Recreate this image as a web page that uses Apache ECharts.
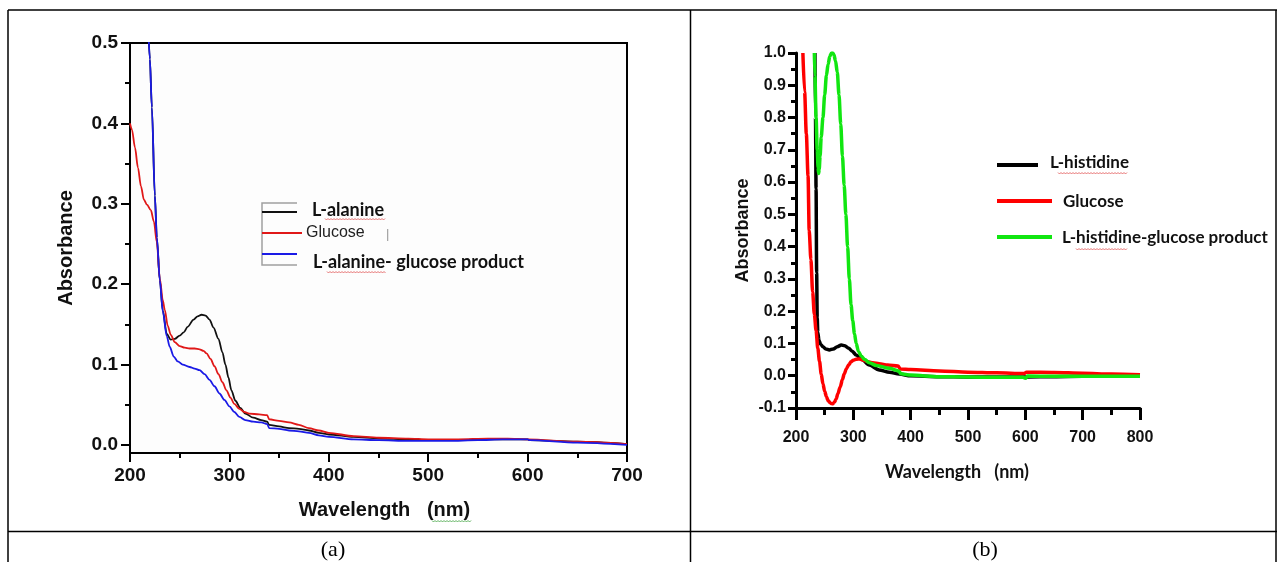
<!DOCTYPE html>
<html>
<head>
<meta charset="utf-8">
<script src="https://cdn.jsdelivr.net/npm/echarts@6/dist/echarts.min.js"></script>
<style>
html,body{margin:0;padding:0;background:#fff;}
#chart{width:1277px;height:562px;}
</style>
</head>
<body>
<div id="chart"></div>
<script>
// ---------- Panel (a): L-alanine / glucose ----------
const alanineX = [218, 220, 222, 225, 227, 230, 233, 237, 241, 245, 250, 254, 258, 264, 268, 272, 276, 280, 284, 289, 293, 296, 299, 302, 306, 311, 316, 324, 332, 338, 340, 350, 360, 370, 380, 390, 400, 425, 450, 480, 500, 530, 560, 580, 600, 602, 650, 700];
const alanineY = [0.53, 0.48, 0.42, 0.31, 0.258, 0.205, 0.167, 0.138, 0.131, 0.132, 0.136, 0.140, 0.147, 0.156, 0.160, 0.162, 0.161, 0.156, 0.146, 0.132, 0.115, 0.100, 0.084, 0.068, 0.055, 0.046, 0.039, 0.034, 0.031, 0.029, 0.025, 0.023, 0.021, 0.020, 0.018, 0.015, 0.013, 0.010, 0.008, 0.007, 0.006, 0.006, 0.007, 0.007, 0.007, 0.006, 0.004, 0.001];

const glucoseAX = [200, 202, 205, 208, 211, 214, 217, 221, 224, 227, 230, 233, 235, 238, 241, 245, 250, 255, 260, 265, 270, 274, 277, 281, 285, 289, 293, 297, 301, 305, 310, 315, 320, 330, 338, 340, 350, 360, 370, 380, 390, 400, 425, 450, 480, 500, 530, 560, 580, 600, 650, 700];
const glucoseAY = [0.400, 0.392, 0.370, 0.345, 0.322, 0.305, 0.299, 0.292, 0.278, 0.252, 0.207, 0.180, 0.168, 0.148, 0.137, 0.128, 0.123, 0.121, 0.120, 0.120, 0.119, 0.117, 0.114, 0.107, 0.098, 0.088, 0.078, 0.068, 0.059, 0.051, 0.045, 0.041, 0.039, 0.038, 0.037, 0.032, 0.030, 0.028, 0.025, 0.021, 0.018, 0.015, 0.011, 0.009, 0.008, 0.007, 0.007, 0.008, 0.008, 0.007, 0.004, 0.001];

const productAX = [218, 220, 222, 225, 227, 230, 233, 237, 240, 244, 248, 253, 260, 265, 270, 275, 280, 285, 290, 295, 300, 305, 310, 316, 324, 332, 338, 340, 350, 360, 370, 380, 390, 400, 425, 450, 480, 500, 520, 550, 575, 600, 602, 650, 700];
const productAY = [0.53, 0.48, 0.42, 0.31, 0.258, 0.205, 0.166, 0.135, 0.122, 0.110, 0.104, 0.100, 0.097, 0.095, 0.093, 0.088, 0.081, 0.073, 0.064, 0.056, 0.048, 0.041, 0.035, 0.031, 0.029, 0.028, 0.026, 0.021, 0.020, 0.018, 0.017, 0.015, 0.012, 0.010, 0.007, 0.006, 0.005, 0.005, 0.005, 0.006, 0.007, 0.007, 0.006, 0.003, 0.000];

const yLabelsA = [0.0, 0.1, 0.2, 0.3, 0.4, 0.5];
const yMinorA = [0.05, 0.15, 0.25, 0.35, 0.45];

// ---------- Panel (b): L-histidine / glucose ----------
const histidineX = [233, 234, 235, 236, 237, 238, 240, 243, 247, 252, 258, 265, 272, 279, 285, 292, 298, 305, 315, 328, 345, 363, 380, 400, 450, 500, 550, 600, 650, 700, 750, 800];
const histidineY = [1.0, 0.80, 0.58, 0.32, 0.18, 0.135, 0.110, 0.097, 0.090, 0.083, 0.080, 0.083, 0.090, 0.095, 0.093, 0.085, 0.076, 0.064, 0.050, 0.033, 0.018, 0.011, 0.005, 0.000, -0.003, -0.004, -0.004, -0.004, -0.003, -0.002, -0.001, 0.000];

const glucoseBX = [212, 215, 218, 221, 223, 226, 229, 232, 235, 238, 241, 244, 247, 250, 253, 256, 259, 261, 264, 267, 270, 273, 277, 281, 284, 288, 292, 296, 300, 305, 311, 318, 326, 334, 345, 360, 378, 382, 400, 450, 500, 550, 598, 602, 650, 700, 750, 800];
const glucoseBY = [1.0, 0.88, 0.75, 0.62, 0.45, 0.36, 0.26, 0.19, 0.14, 0.085, 0.045, 0.005, -0.025, -0.048, -0.065, -0.077, -0.083, -0.086, -0.087, -0.082, -0.072, -0.056, -0.035, -0.012, 0.005, 0.022, 0.034, 0.043, 0.048, 0.051, 0.052, 0.048, 0.043, 0.040, 0.037, 0.033, 0.030, 0.021, 0.019, 0.015, 0.011, 0.009, 0.007, 0.011, 0.010, 0.008, 0.005, 0.003];

const productBX = [232, 233, 235, 237, 238.5, 239.5, 240.5, 242, 244, 247, 250, 253, 256, 259, 262, 264, 266, 269, 272, 275, 278, 281, 284, 287, 290, 293, 296, 299, 302, 305, 309, 314, 320, 328, 340, 363, 379, 383, 400, 450, 500, 550, 596, 600, 604, 650, 700, 750, 800];
const productBY = [1.0, 0.93, 0.80, 0.70, 0.645, 0.627, 0.64, 0.68, 0.74, 0.80, 0.87, 0.93, 0.965, 0.99, 1.0, 1.0, 0.995, 0.975, 0.94, 0.87, 0.78, 0.68, 0.59, 0.50, 0.40, 0.30, 0.22, 0.17, 0.13, 0.10, 0.075, 0.060, 0.050, 0.040, 0.032, 0.023, 0.015, 0.006, 0.002, -0.003, -0.004, -0.005, -0.005, -0.008, -0.001, -0.002, -0.002, -0.002, -0.002];

const seriesNamesA = ['L-alanine', 'Glucose', 'L-alanine- glucose product'];
const seriesNamesB = ['L-histidine', 'Glucose', 'L-histidine-glucose product'];
const colorsA = ['#111111', '#e01818', '#1a1ae6'];
const colorsB = ['#000000', '#ff0000', '#11e611'];

function zip(xs, ys) { return xs.map((x, i) => [x, ys[i]]); }

// spell-check style wavy underline (decoration only)
function squiggle(x1, x2, y, color) {
  const pts = [];
  let k = 0;
  for (let x = x1; x <= x2; x += 1.5, k++) pts.push([x, y + (k % 2 ? 1 : -0.5)]);
  return {type: 'polyline', shape: {points: pts}, style: {stroke: color, lineWidth: 0.8, fill: null}, silent: true};
}

const AXFONT = '"Liberation Sans", Arial, sans-serif';
const CALFONT = 'Lato, "Open Sans", sans-serif';

const chart = echarts.init(document.getElementById('chart'), null, {renderer: 'canvas'});

const option = {
  backgroundColor: '#ffffff',
  animation: false,
  grid: [
    {left: 130, right: 650, top: 43, bottom: 109, show: true, borderColor: '#000', borderWidth: 2, backgroundColor: '#fdfdfd'},
    {left: 796, right: 137, top: 53, bottom: 154, show: false}
  ],
  xAxis: [
    {
      gridIndex: 0, type: 'value', min: 200, max: 700, interval: 100,
      axisLine: {show: true, onZero: false, lineStyle: {color: '#000', width: 2}},
      axisTick: {show: true, inside: false, length: 9, lineStyle: {color: '#000', width: 2}},
      minorTick: {show: true, splitNumber: 2, length: 5, lineStyle: {color: '#000', width: 2}},
      axisLabel: {margin: 13, color: '#111', fontSize: 19, fontWeight: 'bold', fontFamily: AXFONT},
      splitLine: {show: false}, minorSplitLine: {show: false},
      name: 'Wavelength   (nm)', nameLocation: 'middle', nameGap: 47,
      nameTextStyle: {color: '#111', fontSize: 20, fontWeight: 'bold', fontFamily: AXFONT, padding: [0, 0, 0, 12]}
    },
    {
      gridIndex: 1, type: 'value', min: 200, max: 800, interval: 100,
      axisLine: {show: true, onZero: false, lineStyle: {color: '#000', width: 3}},
      axisTick: {show: true, inside: false, length: 12, lineStyle: {color: '#000', width: 3}},
      minorTick: {show: true, splitNumber: 2, length: 7, lineStyle: {color: '#000', width: 3}},
      axisLabel: {margin: 22, color: '#111', fontSize: 16, fontWeight: 'bold', fontFamily: AXFONT},
      splitLine: {show: false}, minorSplitLine: {show: false},
      name: 'Wavelength   (nm)', nameLocation: 'middle', nameGap: 55,
      nameTextStyle: {color: '#111', fontSize: 18, fontWeight: 'bold', fontFamily: CALFONT, padding: [0, 22, 0, 0]}
    }
  ],
  yAxis: [
    {
      gridIndex: 0, type: 'value', min: -0.01, max: 0.5,
      axisLine: {show: true, onZero: false, lineStyle: {color: '#000', width: 2}},
      axisTick: {show: true, inside: false, length: 9, customValues: yLabelsA, lineStyle: {color: '#000', width: 2}},
      axisLabel: {margin: 12, customValues: yLabelsA, formatter: v => v.toFixed(1), color: '#111', fontSize: 19, fontWeight: 'bold', fontFamily: AXFONT},
      splitLine: {show: false},
      name: 'Absorbance', nameLocation: 'middle', nameGap: 54, nameRotate: 90,
      nameTextStyle: {color: '#111', fontSize: 20, fontWeight: 'bold', fontFamily: AXFONT}
    },
    {
      gridIndex: 0, type: 'value', min: -0.01, max: 0.5, position: 'left',
      axisLine: {show: false},
      axisTick: {show: true, inside: false, length: 5, customValues: yMinorA, lineStyle: {color: '#000', width: 2}},
      axisLabel: {show: false},
      splitLine: {show: false}
    },
    {
      gridIndex: 1, type: 'value', min: -0.1, max: 1.0, interval: 0.1,
      axisLine: {show: true, onZero: false, lineStyle: {color: '#000', width: 3}},
      axisTick: {show: true, inside: false, length: 8, lineStyle: {color: '#000', width: 3}},
      minorTick: {show: true, splitNumber: 2, length: 5, lineStyle: {color: '#000', width: 3}},
      axisLabel: {margin: 10, formatter: v => (Math.round(v * 10) / 10).toFixed(1), color: '#111', fontSize: 16, fontWeight: 'bold', fontFamily: AXFONT},
      splitLine: {show: false}, minorSplitLine: {show: false},
      name: 'Absorbance', nameLocation: 'middle', nameGap: 44, nameRotate: 90,
      nameTextStyle: {color: '#111', fontSize: 18, fontWeight: 'bold', fontFamily: AXFONT}
    }
  ],
  series: [
    {name: seriesNamesA[0], type: 'line', xAxisIndex: 0, yAxisIndex: 0, data: zip(alanineX, alanineY), symbol: 'none', smooth: 0.3, smoothMonotone: 'x', lineStyle: {color: colorsA[0], width: 1.8}, itemStyle: {color: colorsA[0]}},
    {name: seriesNamesA[1], type: 'line', xAxisIndex: 0, yAxisIndex: 0, data: zip(glucoseAX, glucoseAY), symbol: 'none', smooth: 0.3, smoothMonotone: 'x', lineStyle: {color: colorsA[1], width: 1.8}, itemStyle: {color: colorsA[1]}},
    {name: seriesNamesA[2], type: 'line', xAxisIndex: 0, yAxisIndex: 0, data: zip(productAX, productAY), symbol: 'none', smooth: 0.3, smoothMonotone: 'x', lineStyle: {color: colorsA[2], width: 1.8}, itemStyle: {color: colorsA[2]}},
    {name: seriesNamesB[0], type: 'line', xAxisIndex: 1, yAxisIndex: 2, data: zip(histidineX, histidineY), symbol: 'none', smooth: 0.3, smoothMonotone: 'x', lineStyle: {color: colorsB[0], width: 3.5}, itemStyle: {color: colorsB[0]}},
    {name: seriesNamesB[1], type: 'line', xAxisIndex: 1, yAxisIndex: 2, data: zip(glucoseBX, glucoseBY), symbol: 'none', smooth: 0.3, smoothMonotone: 'x', lineStyle: {color: colorsB[1], width: 3.5}, itemStyle: {color: colorsB[1]}},
    {name: seriesNamesB[2], type: 'line', xAxisIndex: 1, yAxisIndex: 2, data: zip(productBX, productBY), symbol: 'none', smooth: 0.3, smoothMonotone: 'x', lineStyle: {color: colorsB[2], width: 3.5}, itemStyle: {color: colorsB[2]}}
  ],
  graphic: [
    // table frame
    {type: 'line', shape: {x1: 8, y1: 10, x2: 1277, y2: 10}, style: {stroke: '#000', lineWidth: 1.5}, silent: true},
    {type: 'line', shape: {x1: 8, y1: 10, x2: 8, y2: 562}, style: {stroke: '#000', lineWidth: 1.5}, silent: true},
    {type: 'line', shape: {x1: 690.5, y1: 10, x2: 690.5, y2: 562}, style: {stroke: '#000', lineWidth: 1.5}, silent: true},
    {type: 'line', shape: {x1: 1276, y1: 10, x2: 1276, y2: 562}, style: {stroke: '#000', lineWidth: 1.5}, silent: true},
    {type: 'line', shape: {x1: 8, y1: 531.5, x2: 1277, y2: 531.5}, style: {stroke: '#000', lineWidth: 1.5}, silent: true},
    {type: 'text', x: 333, y: 550, style: {text: '(a)', font: '22px "Liberation Serif", "Times New Roman", serif', fill: '#000', align: 'center', verticalAlign: 'middle'}, silent: true},
    {type: 'text', x: 985, y: 550, style: {text: '(b)', font: '22px "Liberation Serif", "Times New Roman", serif', fill: '#000', align: 'center', verticalAlign: 'middle'}, silent: true},

    // legend (a)
    {type: 'polyline', shape: {points: [[297, 203], [262, 203], [262, 265], [297, 265]]}, style: {stroke: '#a0a0a0', lineWidth: 1.5, fill: null}, silent: true},
    {type: 'line', shape: {x1: 262, y1: 212, x2: 297, y2: 212}, style: {stroke: colorsA[0], lineWidth: 2}, silent: true},
    {type: 'line', shape: {x1: 262, y1: 233, x2: 302, y2: 233}, style: {stroke: colorsA[1], lineWidth: 1.8}, silent: true},
    {type: 'line', shape: {x1: 262, y1: 254, x2: 297, y2: 254}, style: {stroke: colorsA[2], lineWidth: 2}, silent: true},
    {type: 'text', x: 312, y: 210, style: {text: seriesNamesA[0], font: 'bold 18px ' + CALFONT, fill: '#111', align: 'left', verticalAlign: 'middle'}, silent: true},
    {type: 'text', x: 306, y: 233, style: {text: seriesNamesA[1], font: '16px ' + AXFONT, fill: '#222', align: 'left', verticalAlign: 'middle'}, silent: true},
    {type: 'text', x: 386, y: 234, style: {text: '|', font: '13px ' + AXFONT, fill: '#999', align: 'left', verticalAlign: 'middle'}, silent: true},
    {type: 'text', x: 313, y: 262, style: {text: seriesNamesA[2], font: 'bold 18px ' + CALFONT, fill: '#111', align: 'left', verticalAlign: 'middle'}, silent: true},
    squiggle(325, 385, 219, '#e05050'),
    squiggle(327, 386, 272, '#e05050'),

    // legend (b)
    {type: 'line', shape: {x1: 997, y1: 165, x2: 1038, y2: 165}, style: {stroke: colorsB[0], lineWidth: 4}, silent: true},
    {type: 'line', shape: {x1: 997, y1: 201, x2: 1052, y2: 201}, style: {stroke: colorsB[1], lineWidth: 4}, silent: true},
    {type: 'line', shape: {x1: 997, y1: 237, x2: 1052, y2: 237}, style: {stroke: colorsB[2], lineWidth: 4}, silent: true},
    {type: 'text', x: 1050, y: 163, style: {text: seriesNamesB[0], font: 'bold 17px ' + CALFONT, fill: '#111', align: 'left', verticalAlign: 'middle'}, silent: true},
    {type: 'text', x: 1063, y: 202, style: {text: seriesNamesB[1], font: 'bold 17px ' + CALFONT, fill: '#111', align: 'left', verticalAlign: 'middle'}, silent: true},
    {type: 'text', x: 1062, y: 238, style: {text: seriesNamesB[2], font: 'bold 17px ' + CALFONT, fill: '#111', align: 'left', verticalAlign: 'middle'}, silent: true},
    squiggle(1058, 1128, 173, '#e05050'),
    squiggle(1076, 1128, 249, '#e05050'),

    // green wavy underline under "nm" of (a)'s axis title
    squiggle(432, 471, 521, '#3aa03a')
  ]
};
chart.setOption(option);
</script>
</body>
</html>
